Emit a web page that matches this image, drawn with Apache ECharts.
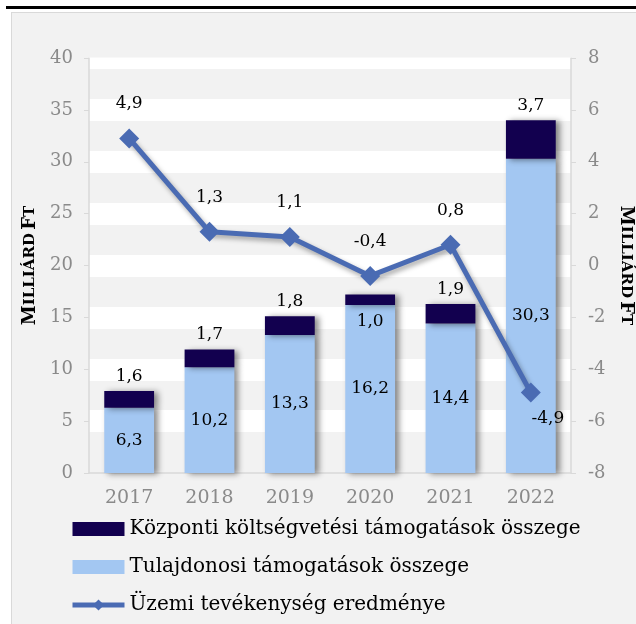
<!DOCTYPE html>
<html>
<head>
<meta charset="utf-8">
<script src="https://cdn.jsdelivr.net/npm/echarts@6/dist/echarts.min.js"></script>
<style>
  html, body { margin: 0; padding: 0; background: #ffffff; width: 636px; height: 624px; overflow: hidden; }
  #topline { position: absolute; left: 6px; top: 6px; width: 640px; height: 3px; background: #000; }
  #frame { position: absolute; left: 11px; top: 12px; width: 640px; height: 640px; background: #f2f2f2; border: 1px solid #d9d9d9; }
  #chart { position: absolute; left: 0; top: 0; width: 636px; height: 624px; }
</style>
</head>
<body>
<div id="topline"></div>
<div id="frame"></div>
<div id="chart"></div>
<script>
const years = ['2017', '2018', '2019', '2020', '2021', '2022'];
const ownerSupport = [6.3, 10.2, 13.3, 16.2, 14.4, 30.3];
const centralSupport = [1.6, 1.7, 1.8, 1.0, 1.9, 3.7];
const operatingResult = [4.9, 1.3, 1.1, -0.4, 0.8, -4.9];
const leftTicks = [0, 5, 10, 15, 20, 25, 30, 35, 40];
const rightTicks = [-8, -6, -4, -2, 0, 2, 4, 6, 8];

const seriesNames = [
  'Központi költségvetési támogatások összege',
  'Tulajdonosi támogatások összege',
  'Üzemi tevékenység eredménye'
];

const FONT = 'DejaVu Serif';
const fmt = v => v.toFixed(1).replace('.', ',');
const labelText = { fontFamily: FONT, fontSize: 17, color: '#000' };
const axisLabelStyle = { fontFamily: FONT, fontSize: 18, color: '#8a8a8a' };
const nameRich = {
  big: { fontFamily: FONT, fontWeight: 'bold', fontSize: 18, color: '#000' },
  small: { fontFamily: FONT, fontWeight: 'bold', fontSize: 15, color: '#000' }
};
const axisName = '{big|M}{small|ILLIÁRD} {big|F}{small|T}';

const barShadow = { shadowColor: 'rgba(0,0,0,0.45)', shadowBlur: 6, shadowOffsetX: 4, shadowOffsetY: 1 };
const lineColor = '#4a6bb3';

const chart = echarts.init(document.getElementById('chart'), null, { renderer: 'canvas' });

const option = {
  backgroundColor: 'transparent',
  animation: false,
  grid: { left: 89, right: 65, top: 58, bottom: 151, containLabel: false, outerBoundsMode: 'none' },
  graphic: [{
    type: 'rect', left: 80, top: 40, z: 100,
    shape: { width: 500, height: 17.5 },
    style: { fill: '#f2f2f2' }
  }],
  legend: {
    orient: 'vertical', left: 70, top: 519,
    itemWidth: 52, itemHeight: 14, itemGap: 18, padding: 0,
    textStyle: { fontFamily: FONT, fontSize: 20, color: '#000' },
    data: [
      { name: seriesNames[0], icon: 'rect' },
      { name: seriesNames[1], icon: 'rect' },
      { name: seriesNames[2], lineStyle: { width: 5 } }
    ]
  },
  xAxis: {
    type: 'category', data: years,
    axisLine: { lineStyle: { color: '#d9d9d9', width: 1.5 } },
    axisTick: { show: false },
    axisLabel: Object.assign({ margin: 16 }, axisLabelStyle, { fontSize: 19 })
  },
  yAxis: [{
    type: 'value', min: leftTicks[0], max: leftTicks[leftTicks.length - 1],
    interval: leftTicks[1] - leftTicks[0],
    name: axisName, nameLocation: 'middle', nameGap: 47,
    nameTextStyle: { rich: nameRich },
    axisLine: { show: true, lineStyle: { color: '#d9d9d9', width: 1.5 } },
    axisTick: { show: true, length: 5, lineStyle: { color: '#d9d9d9' } },
    axisLabel: Object.assign({ margin: 16 }, axisLabelStyle),
    splitLine: { show: true, showMinLine: false, lineStyle: { color: '#ffffff', width: 22 } }
  }, {
    type: 'value', min: rightTicks[0], max: rightTicks[rightTicks.length - 1],
    interval: rightTicks[1] - rightTicks[0],
    position: 'right',
    name: axisName, nameLocation: 'middle', nameGap: 46, nameRotate: -90,
    nameTextStyle: { rich: nameRich },
    axisLine: { show: true, lineStyle: { color: '#d9d9d9', width: 1.5 } },
    axisTick: { show: true, length: 5, lineStyle: { color: '#d9d9d9' } },
    axisLabel: Object.assign({ margin: 17 }, axisLabelStyle),
    splitLine: { show: false }
  }],
  series: [{
    name: seriesNames[1], type: 'bar', stack: 'total', barCategoryGap: '38%',
    itemStyle: Object.assign({ color: '#a3c7f2' }, barShadow),
    label: Object.assign({ show: true, position: 'inside', formatter: p => fmt(p.value) }, labelText),
    data: ownerSupport
  }, {
    name: seriesNames[0], type: 'bar', stack: 'total',
    itemStyle: Object.assign({ color: '#12004f' }, barShadow),
    label: Object.assign({ show: true, position: 'top', distance: 6, formatter: p => fmt(p.value) }, labelText),
    data: centralSupport.map((v, i) => i === 3
      ? { value: v, label: { position: 'bottom', distance: 8 } }
      : v)
  }, {
    name: seriesNames[2], type: 'line', yAxisIndex: 1,
    symbol: 'diamond', symbolSize: 20,
    itemStyle: { color: lineColor },
    lineStyle: { color: lineColor, width: 5, shadowColor: 'rgba(0,0,0,0.35)', shadowBlur: 5, shadowOffsetX: 2, shadowOffsetY: 3 },
    label: Object.assign({ show: true, position: 'top', distance: 16, formatter: p => fmt(p.value) }, labelText),
    z: 5,
    data: operatingResult.map((v, i) => i === operatingResult.length - 1
      ? { value: v, label: { position: 'bottom', distance: 7, offset: [17, 0] } }
      : v)
  }]
};
chart.setOption(option);
</script>
</body>
</html>
